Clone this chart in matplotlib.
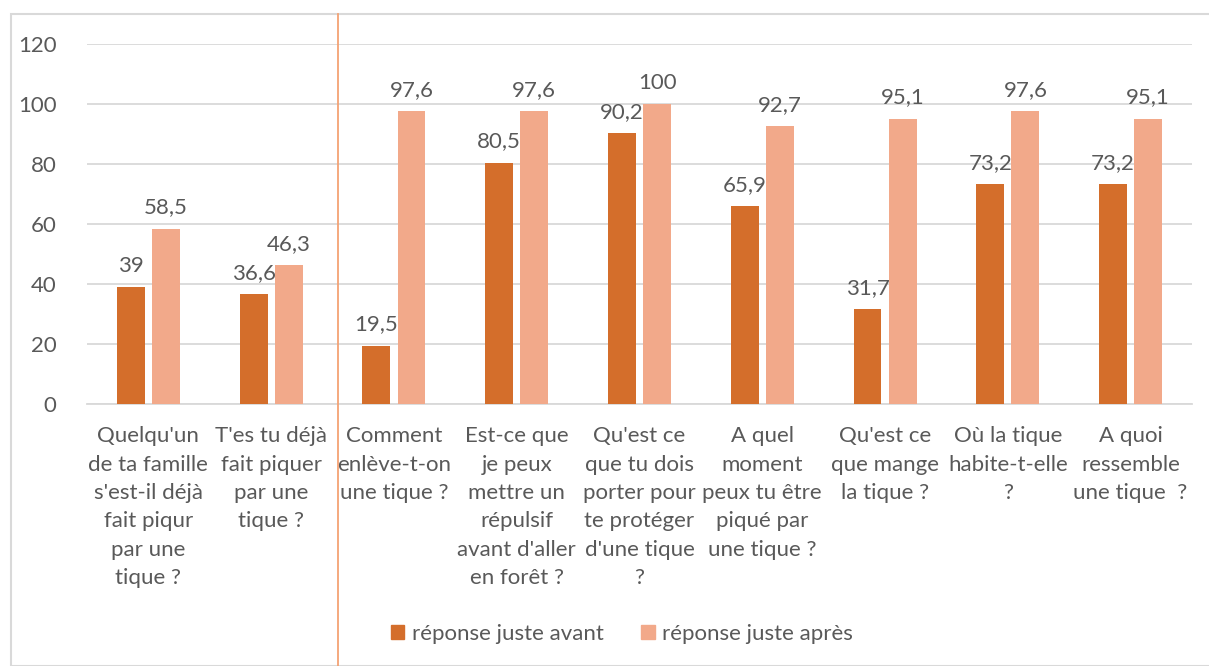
import numpy as np
import matplotlib.pyplot as plt
from matplotlib.patches import Rectangle
from matplotlib.lines import Line2D

# Data
categories = [
    "Quelqu'un\nde ta famille\ns'est-il déjà\nfait piqur\npar une\ntique ?",
    "T'es tu déjà\nfait piquer\npar une\ntique ?",
    "Comment\nenlève-t-on\nune tique ?",
    "Est-ce que\nje peux\nmettre un\nrépulsif\navant d'aller\nen forêt ?",
    "Qu'est ce\nque tu dois\nporter pour\nte protéger\nd'une tique\n?",
    "A quel\nmoment\npeux tu être\npiqué par\nune tique ?",
    "Qu'est ce\nque mange\nla tique ?",
    "Où la tique\nhabite-t-elle\n?",
    "A quoi\nressemble\nune tique  ?",
]
avant = [39, 36.6, 19.5, 80.5, 90.2, 65.9, 31.7, 73.2, 73.2]
apres = [58.5, 46.3, 97.6, 97.6, 100, 92.7, 95.1, 97.6, 95.1]
avant_labels = ["39", "36,6", "19,5", "80,5", "90,2", "65,9", "31,7", "73,2", "73,2"]
apres_labels = ["58,5", "46,3", "97,6", "97,6", "100", "92,7", "95,1", "97,6", "95,1"]

c_avant = "#D46E2B"
c_apres = "#F2A98A"
txt = "#595959"
grid = "#D9D9D9"
fs = 16

plt.rcParams['font.family'] = ['Lato', 'DejaVu Sans']

fig = plt.figure(figsize=(12.09, 6.66), dpi=100)
W, H = 1209, 666
ax = fig.add_axes([87 / W, 1 - 404 / H, (1192 - 87) / W, (404 - 44) / H])

x = np.arange(len(categories))
w = 0.228
off = 0.143
b1 = ax.bar(x - off, avant, w, color=c_avant, zorder=3)
b2 = ax.bar(x + off, apres, w, color=c_apres, zorder=3)

for rect, lab in zip(b1, avant_labels):
    ax.annotate(lab, (rect.get_x() + rect.get_width() / 2, rect.get_height()),
                xytext=(0, 8), textcoords="offset points", ha="center",
                va="bottom", fontsize=fs, color=txt)
for rect, lab in zip(b2, apres_labels):
    ax.annotate(lab, (rect.get_x() + rect.get_width() / 2, rect.get_height()),
                xytext=(0, 8), textcoords="offset points", ha="center",
                va="bottom", fontsize=fs, color=txt)

ax.set_xlim(-0.5, len(categories) - 0.5)
ax.set_ylim(0, 120)
ax.set_yticks(np.arange(0, 121, 20))
ax.yaxis.grid(True, color=grid, linewidth=1.3, zorder=0)
ax.set_axisbelow(True)
for s in ["top", "right", "left"]:
    ax.spines[s].set_visible(False)
ax.spines["bottom"].set_color(grid)
ax.spines["bottom"].set_linewidth(1.3)
ax.tick_params(axis="both", length=0, labelsize=fs, colors=txt)
ax.tick_params(axis="y", pad=22)
ax.tick_params(axis="x", pad=16)
ax.set_xticks(x)
ax.set_xticklabels(categories, va="top")
for lab in ax.get_xticklabels():
    lab.set_linespacing(1.52)

# chart border
fig.patches.append(Rectangle((11 / W, 0), 1.2, 1 - 14 / H, transform=fig.transFigure,
                             fill=False, edgecolor="#D9D9D9", linewidth=1.5))
# vertical separator
fig.lines.append(Line2D([338 / W, 338 / W], [0, 1 - 14 / H], transform=fig.transFigure,
                        color="#F4A274", linewidth=1.3))

handles = [Rectangle((0, 0), 1, 1, color=c_avant), Rectangle((0, 0), 1, 1, color=c_apres)]
fig.legend(handles, ["réponse juste avant", "réponse juste après"], loc="center",
           bbox_to_anchor=(622 / W, 1 - 634 / H), ncol=2, frameon=False,
           fontsize=fs, labelcolor=txt, handlelength=0.6, handleheight=0.6,
           handletextpad=0.35, columnspacing=1.7)

fig.savefig("out.png", dpi=100, facecolor="white")
